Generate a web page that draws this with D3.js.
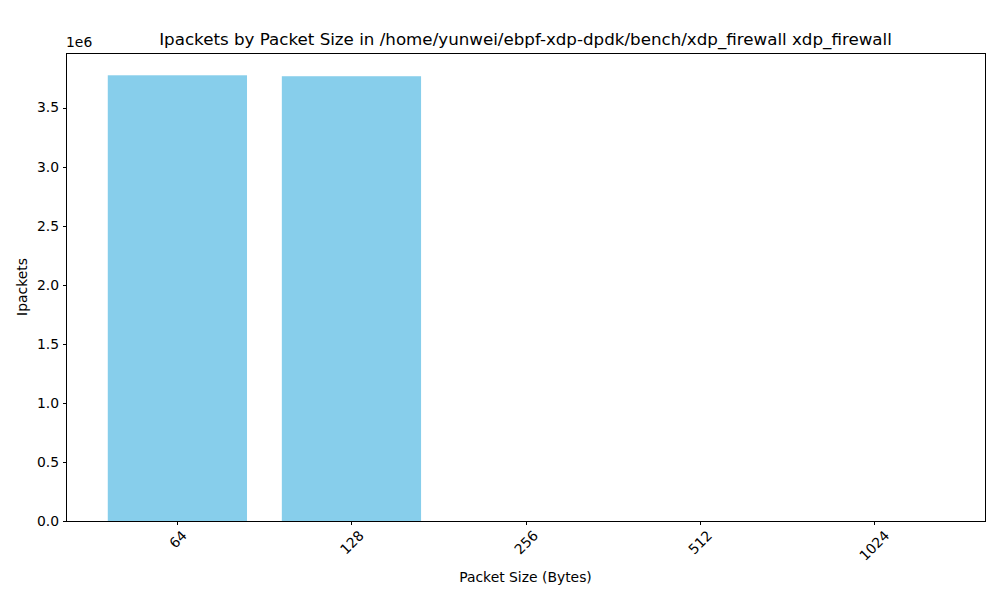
<!DOCTYPE html>
<html>
<head>
<meta charset="utf-8">
<script src="https://cdn.jsdelivr.net/npm/d3@7"></script>
<style>
  body { margin: 0; background: #fff; }
  text { font-family: "DejaVu Sans", sans-serif; fill: #000; }
</style>
</head>
<body>
<script>
/* chart data */
var packetSizes = ["64", "128", "256", "512", "1024"];
var ipackets = [3773000, 3765000, 0, 0, 0];
var yTicks = [0, 500000, 1000000, 1500000, 2000000, 2500000, 3000000, 3500000];

var width = 1000, height = 600;
var margin = { top: 53, right: 15, bottom: 79, left: 66 };
var plotW = width - margin.left - margin.right,
    plotH = height - margin.top - margin.bottom;

var svg = d3.select("body").append("svg")
    .attr("width", width)
    .attr("height", height);

var g = svg.append("g")
    .attr("transform", "translate(" + margin.left + "," + margin.top + ")");

/* matplotlib style: bar width 0.8, 5% margins */
var n = packetSizes.length;
var x = d3.scaleLinear()
    .domain([-0.4 - 0.05 * (n - 0.2), n - 1 + 0.4 + 0.05 * (n - 0.2)])
    .range([0, plotW]);

var y = d3.scaleLinear()
    .domain([0, d3.max(ipackets) * 1.05])
    .range([plotH, 0]);

/* bars */
g.selectAll("rect.bar")
    .data(ipackets)
    .enter().append("rect")
    .attr("class", "bar")
    .attr("x", function(d, i) { return x(i - 0.4) })
    .attr("width", function(d, i) { return x(i + 0.4) - x(i - 0.4) })
    .attr("y", function(d) { return y(d) })
    .attr("height", function(d) { return plotH - y(d) })
    .attr("fill", "#87ceeb");

/* y axis */
var yAxis = g.append("g")
    .call(d3.axisLeft(y).tickValues(yTicks).tickSize(3.5).tickPadding(3.5)
        .tickFormat(function(d) { return (d / 1e6).toFixed(1) }));
yAxis.select(".domain").remove();
yAxis.selectAll("text").style("font-size", "13.9px").style("font-family", "DejaVu Sans");
yAxis.selectAll("line").attr("stroke", "#000").attr("stroke-width", 1)
    .attr("shape-rendering", "crispEdges");

/* x axis */
var xAxis = g.append("g")
    .attr("transform", "translate(0," + plotH + ")")
    .call(d3.axisBottom(x).tickValues(d3.range(n)).tickSize(3.5)
        .tickFormat(function(d) { return packetSizes[d] }));
xAxis.select(".domain").remove();
xAxis.selectAll("line").attr("stroke", "#000").attr("stroke-width", 1)
    .attr("shape-rendering", "crispEdges");
xAxis.selectAll("text")
    .style("font-size", "13.9px").style("font-family", "DejaVu Sans")
    .attr("text-anchor", "middle")
    .attr("dy", null)
    .attr("y", 0)
    .attr("dominant-baseline", "central")
    .attr("transform", function() {
        var len = this.getComputedTextLength();
        var h = (len + 14) * Math.SQRT1_2 / 2;
        return "translate(0," + (3.5 + 3.5 + h) + ") rotate(-45)";
    });

/* frame */
g.append("rect")
    .attr("width", plotW).attr("height", plotH)
    .attr("fill", "none").attr("stroke", "#000").attr("stroke-width", 1)
    .attr("shape-rendering", "crispEdges");

/* offset text */
svg.append("text")
    .attr("x", margin.left).attr("y", margin.top - 6)
    .style("font-size", "13.9px")
    .text("1e6");

/* title and labels */
svg.append("text")
    .attr("x", margin.left + plotW / 2).attr("y", margin.top - 8)
    .attr("text-anchor", "middle")
    .style("font-size", "16.7px")
    .text("Ipackets by Packet Size in /home/yunwei/ebpf-xdp-dpdk/bench/xdp_firewall xdp_firewall");

svg.append("text")
    .attr("x", margin.left + plotW / 2).attr("y", 582)
    .attr("text-anchor", "middle")
    .style("font-size", "13.9px")
    .text("Packet Size (Bytes)");

svg.append("text")
    .attr("transform", "translate(27," + (margin.top + plotH / 2) + ") rotate(-90)")
    .attr("text-anchor", "middle")
    .style("font-size", "13.9px")
    .text("Ipackets");
</script>
</body>
</html>
